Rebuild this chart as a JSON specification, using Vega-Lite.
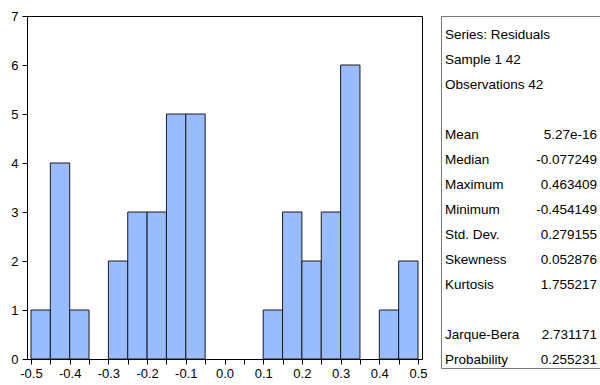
{
  "$schema": "https://vega.github.io/schema/vega-lite/v6.json",
  "padding": {"left": 10, "top": 9, "right": 0, "bottom": 0},
  "spacing": 19,
  "bounds": "flush",
  "config": {
    "view": {"stroke": null},
    "font": "Liberation Sans",
    "background": "white"
  },
  "hconcat": [
    {
      "width": 395,
      "height": 343,
      "view": {"stroke": "#000000", "strokeWidth": 1},
      "data": {
        "values": [
          {"bin_start": -0.5, "bin_end": -0.45, "count": 1},
          {"bin_start": -0.45, "bin_end": -0.4, "count": 4},
          {"bin_start": -0.4, "bin_end": -0.35, "count": 1},
          {"bin_start": -0.35, "bin_end": -0.3, "count": 0},
          {"bin_start": -0.3, "bin_end": -0.25, "count": 2},
          {"bin_start": -0.25, "bin_end": -0.2, "count": 3},
          {"bin_start": -0.2, "bin_end": -0.15, "count": 3},
          {"bin_start": -0.15, "bin_end": -0.1, "count": 5},
          {"bin_start": -0.1, "bin_end": -0.05, "count": 5},
          {"bin_start": -0.05, "bin_end": 0.0, "count": 0},
          {"bin_start": 0.0, "bin_end": 0.05, "count": 0},
          {"bin_start": 0.05, "bin_end": 0.1, "count": 0},
          {"bin_start": 0.1, "bin_end": 0.15, "count": 1},
          {"bin_start": 0.15, "bin_end": 0.2, "count": 3},
          {"bin_start": 0.2, "bin_end": 0.25, "count": 2},
          {"bin_start": 0.25, "bin_end": 0.3, "count": 3},
          {"bin_start": 0.3, "bin_end": 0.35, "count": 6},
          {"bin_start": 0.35, "bin_end": 0.4, "count": 0},
          {"bin_start": 0.4, "bin_end": 0.45, "count": 1},
          {"bin_start": 0.45, "bin_end": 0.5, "count": 2}
        ]
      },
      "transform": [{"filter": "datum.count > 0"}],
      "mark": {"type": "bar", "fill": "#99BBFF", "stroke": "#1a1a1a", "strokeWidth": 1, "opacity": 1},
      "encoding": {
        "x": {
          "field": "bin_start",
          "type": "quantitative",
          "scale": {"domain": [-0.5103, 0.5103], "nice": false, "zero": false},
          "axis": {
            "title": null,
            "grid": false,
            "domain": false,
            "values": [-0.5, -0.45, -0.4, -0.35, -0.3, -0.25, -0.2, -0.15, -0.1, -0.05, 0, 0.05, 0.1, 0.15, 0.2, 0.25, 0.3, 0.35, 0.4, 0.45, 0.5],
            "labelExpr": "abs(round(datum.value * 20)) % 2 == 0 ? (datum.value == 0 ? '0.0' : '' + datum.value) : ''",
            "tickSize": 5,
            "tickColor": "#000000",
            "labelColor": "#000000",
            "labelFontSize": 13,
            "labelPadding": 3,
            "labelFlush": false,
            "labelOverlap": false
          }
        },
        "x2": {"field": "bin_end"},
        "y": {
          "field": "count",
          "type": "quantitative",
          "scale": {"domain": [0, 7], "nice": false},
          "axis": {
            "title": null,
            "grid": false,
            "domain": false,
            "values": [0, 1, 2, 3, 4, 5, 6, 7],
            "tickSize": 5,
            "tickColor": "#000000",
            "labelColor": "#000000",
            "labelFontSize": 13,
            "labelPadding": 4
          }
        },
        "y2": {"datum": 0}
      }
    },
    {
      "width": 159,
      "height": 352,
      "view": {"stroke": "#7a7a7a", "strokeWidth": 1},
      "data": {
        "values": [
          {"row": 0, "label": "Series: Residuals", "value": ""},
          {"row": 1, "label": "Sample 1 42", "value": ""},
          {"row": 2, "label": "Observations 42", "value": ""},
          {"row": 4, "label": "Mean", "value": "5.27e-16"},
          {"row": 5, "label": "Median", "value": "-0.077249"},
          {"row": 6, "label": "Maximum", "value": "0.463409"},
          {"row": 7, "label": "Minimum", "value": "-0.454149"},
          {"row": 8, "label": "Std. Dev.", "value": "0.279155"},
          {"row": 9, "label": "Skewness", "value": "0.052876"},
          {"row": 10, "label": "Kurtosis", "value": "1.755217"},
          {"row": 12, "label": "Jarque-Bera", "value": "2.731171"},
          {"row": 13, "label": "Probability", "value": "0.255231"}
        ]
      },
      "layer": [
        {
          "mark": {"type": "text", "align": "left", "baseline": "middle", "fontSize": 13.5, "color": "#000000"},
          "encoding": {
            "x": {"datum": 0, "type": "quantitative", "scale": {"domain": [-0.0263, 1.0197], "nice": false, "zero": false}, "axis": null},
            "y": {"field": "row", "type": "quantitative", "scale": {"domain": [-0.76, 13.32], "reverse": true, "nice": false, "zero": false}, "axis": null},
            "text": {"field": "label"}
          }
        },
        {
          "mark": {"type": "text", "align": "right", "baseline": "middle", "fontSize": 13.5, "color": "#000000"},
          "encoding": {
            "x": {"datum": 1, "type": "quantitative", "scale": {"domain": [-0.0263, 1.0197], "nice": false, "zero": false}, "axis": null},
            "y": {"field": "row", "type": "quantitative", "scale": {"domain": [-0.76, 13.32], "reverse": true, "nice": false, "zero": false}, "axis": null},
            "text": {"field": "value"}
          }
        }
      ]
    }
  ]
}
